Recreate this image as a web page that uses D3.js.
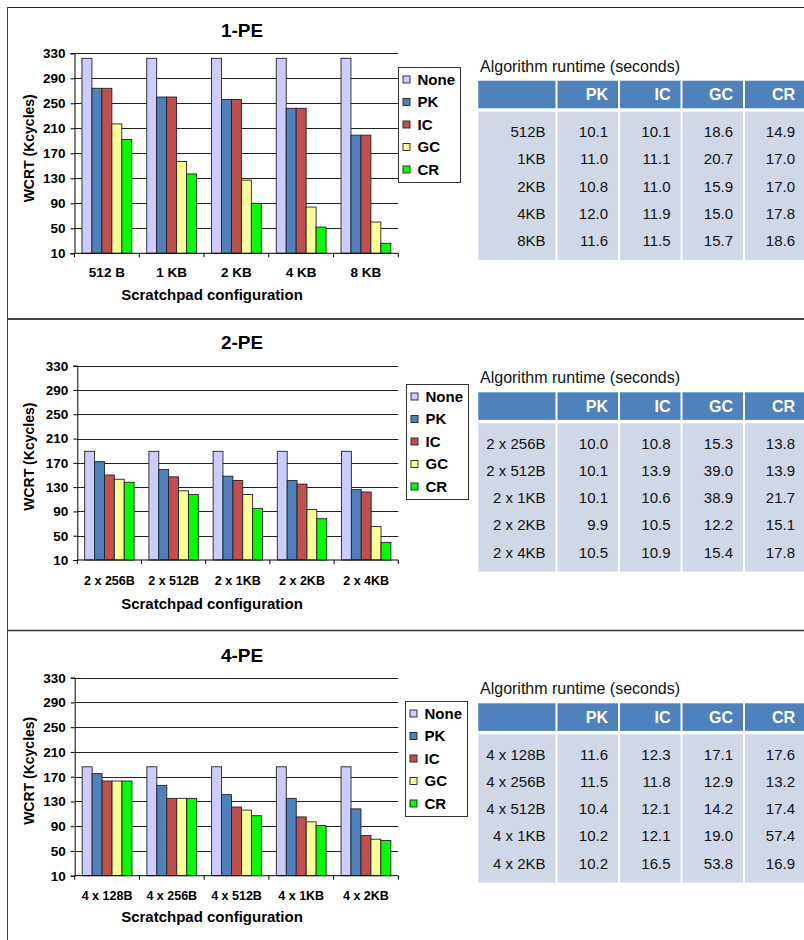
<!DOCTYPE html>
<html>
<head>
<meta charset="utf-8">
<script src="https://cdn.jsdelivr.net/npm/d3@7"></script>
<style>
  html, body { margin: 0; padding: 0; background: #fff; }
  svg { display: block; font-family: "Liberation Sans", Arial, sans-serif; }
</style>
</head>
<body>
<svg id="chart" width="804" height="940"></svg>
<script>
// Series shown in every panel
const seriesNames = ["None", "PK", "IC", "GC", "CR"];
const seriesColors = ["#ccccff", "#4f81bd", "#c0504d", "#ffff99", "#00ff00"];
const yTickValues = [10, 50, 90, 130, 170, 210, 250, 290, 330];

// 1-PE worst-case response time (Kcycles)
const pe1Configs = ["512 B", "1 KB", "2 KB", "4 KB", "8 KB"];
const pe1None = [322, 322, 322, 322, 322];
const pe1PK = [274, 260, 256, 242, 199];
const pe1IC = [274, 260, 256, 242, 199];
const pe1GC = [217, 157, 127, 84, 60];
const pe1CR = [192, 137, 90, 52, 26];

// 2-PE worst-case response time (Kcycles)
const pe2Configs = ["2 x 256B", "2 x 512B", "2 x 1KB", "2 x 2KB", "2 x 4KB"];
const pe2None = [189, 189, 189, 189, 189];
const pe2PK = [172, 159, 148, 141, 126];
const pe2IC = [150, 147, 141, 135, 122];
const pe2GC = [143, 124, 118, 93, 65];
const pe2CR = [138, 118, 95, 78, 39];

// 4-PE worst-case response time (Kcycles)
const pe4Configs = ["4 x 128B", "4 x 256B", "4 x 512B", "4 x 1KB", "4 x 2KB"];
const pe4None = [186, 186, 186, 186, 186];
const pe4PK = [175, 156, 141, 135, 118];
const pe4IC = [163, 135, 121, 105, 75];
const pe4GC = [163, 135, 116, 97, 69];
const pe4CR = [163, 135, 107, 91, 67];

// Algorithm runtime tables (seconds)
const tableHeaders = ["", "PK", "IC", "GC", "CR"];
const rt1Rows = ["512B", "1KB", "2KB", "4KB", "8KB"];
const rt1PK = [10.1, 11.0, 10.8, 12.0, 11.6];
const rt1IC = [10.1, 11.1, 11.0, 11.9, 11.5];
const rt1GC = [18.6, 20.7, 15.9, 15.0, 15.7];
const rt1CR = [14.9, 17.0, 17.0, 17.8, 18.6];

const rt2Rows = ["2 x 256B", "2 x 512B", "2 x 1KB", "2 x 2KB", "2 x 4KB"];
const rt2PK = [10.0, 10.1, 10.1, 9.9, 10.5];
const rt2IC = [10.8, 13.9, 10.6, 10.5, 10.9];
const rt2GC = [15.3, 39.0, 38.9, 12.2, 15.4];
const rt2CR = [13.8, 13.9, 21.7, 15.1, 17.8];

const rt4Rows = ["4 x 128B", "4 x 256B", "4 x 512B", "4 x 1KB", "4 x 2KB"];
const rt4PK = [11.6, 11.5, 10.4, 10.2, 10.2];
const rt4IC = [12.3, 11.8, 12.1, 12.1, 16.5];
const rt4GC = [17.1, 12.9, 14.2, 19.0, 53.8];
const rt4CR = [17.6, 13.2, 17.4, 57.4, 16.9];

const svg = d3.select("#chart");
svg.append("rect").attr("width", 804).attr("height", 940).attr("fill", "#fff");

// Page frame and panel separators
svg.append("line").attr("x1", 7.5).attr("x2", 804).attr("y1", 7.5).attr("y2", 7.5)
  .attr("stroke", "#222").attr("stroke-width", 1);
svg.append("line").attr("x1", 7.5).attr("x2", 7.5).attr("y1", 7).attr("y2", 940)
  .attr("stroke", "#444").attr("stroke-width", 1);
svg.append("line").attr("x1", 7).attr("x2", 804).attr("y1", 319).attr("y2", 319)
  .attr("stroke", "#444").attr("stroke-width", 2);
svg.append("line").attr("x1", 7).attr("x2", 804).attr("y1", 630.5).attr("y2", 630.5)
  .attr("stroke", "#333").attr("stroke-width", 1.5);

const panels = [
  {
    title: "1-PE", configs: pe1Configs, values: [pe1None, pe1PK, pe1IC, pe1GC, pe1CR],
    left: 74.5, right: 398.3, top: 53.3, bottom: 253.3,
    titleY: 36.7, yTitleY: 148.3, xLabelY: 277.3, xLabelSize: 13.5, xTitleY: 299.5,
    legendX: 398, legendY: 67,
    rows: rt1Rows, cols: [rt1PK, rt1IC, rt1GC, rt1CR], tableTop: 80.7
  },
  {
    title: "2-PE", configs: pe2Configs, values: [pe2None, pe2PK, pe2IC, pe2GC, pe2CR],
    left: 77.3, right: 398.3, top: 365.7, bottom: 560,
    titleY: 349.3, yTitleY: 456.7, xLabelY: 584.5, xLabelSize: 12.5, xTitleY: 608.5,
    legendX: 406, legendY: 384,
    rows: rt2Rows, cols: [rt2PK, rt2IC, rt2GC, rt2CR], tableTop: 392.3
  },
  {
    title: "4-PE", configs: pe4Configs, values: [pe4None, pe4PK, pe4IC, pe4GC, pe4CR],
    left: 74.7, right: 398.3, top: 677.7, bottom: 875.7,
    titleY: 661.7, yTitleY: 770.8, xLabelY: 899.5, xLabelSize: 12.5, xTitleY: 921.5,
    legendX: 405, legendY: 701,
    rows: rt4Rows, cols: [rt4PK, rt4IC, rt4GC, rt4CR], tableTop: 703.3
  }
];

const color = d3.scaleOrdinal().domain(seriesNames).range(seriesColors);

panels.forEach(p => {
  const g = svg.append("g");

  const x0 = d3.scaleBand().domain(p.configs).range([p.left, p.right]).padding(0);
  const bw = x0.bandwidth();
  const gapEdge = bw * 0.75 / 6.5;
  const x1 = d3.scaleBand().domain(seriesNames).range([gapEdge, bw - gapEdge]).padding(0);
  const y = d3.scaleLinear().domain([10, 330]).range([p.bottom, p.top]);

  // Chart title
  g.append("text").attr("x", 242).attr("y", p.titleY).attr("text-anchor", "middle")
    .attr("font-size", 19).attr("font-weight", "bold").attr("fill", "#000").text(p.title);

  // Horizontal gridlines
  g.append("g").selectAll("line").data(yTickValues.filter(v => v > 10)).join("line")
    .attr("x1", p.left).attr("x2", p.right)
    .attr("y1", d => Math.round(y(d)) + 0.5).attr("y2", d => Math.round(y(d)) + 0.5)
    .attr("stroke", "#222").attr("stroke-width", 1);

  // Bars
  const groups = g.append("g").selectAll("g").data(p.configs).join("g")
    .attr("transform", d => `translate(${x0(d)},0)`);
  groups.selectAll("rect")
    .data((c, i) => seriesNames.map((s, k) => ({ s, v: p.values[k][i] })))
    .join("rect")
    .attr("x", d => x1(d.s))
    .attr("width", x1.bandwidth())
    .attr("y", d => y(d.v))
    .attr("height", d => y(10) - y(d.v))
    .attr("fill", d => color(d.s))
    .attr("stroke", "#222").attr("stroke-width", 0.9);

  // Y axis
  const yAxis = d3.axisLeft(y).tickValues(yTickValues).tickSize(4).tickPadding(5);
  const ya = g.append("g").attr("transform", `translate(${p.left},0)`).call(yAxis);
  ya.select(".domain").attr("stroke", "#000");
  ya.selectAll(".tick line").attr("stroke", "#000");
  ya.selectAll("text").attr("font-size", 13.5).attr("font-weight", "bold")
    .attr("font-family", "Liberation Sans, Arial, sans-serif").attr("fill", "#000");

  // X axis: boundary ticks between configurations
  const xb = g.append("g");
  xb.append("line").attr("x1", p.left).attr("x2", p.right)
    .attr("y1", p.bottom).attr("y2", p.bottom).attr("stroke", "#000");
  const edges = p.configs.map(c => x0(c)).concat([p.right]);
  xb.selectAll("line.tk").data(edges).join("line").attr("class", "tk")
    .attr("x1", d => d).attr("x2", d => d)
    .attr("y1", p.bottom).attr("y2", p.bottom + 4).attr("stroke", "#000");
  xb.selectAll("text").data(p.configs).join("text")
    .attr("x", d => x0(d) + bw / 2).attr("y", p.xLabelY).attr("text-anchor", "middle")
    .attr("font-size", p.xLabelSize).attr("font-weight", "bold").attr("fill", "#000")
    .text(d => d);

  // Axis titles
  g.append("text").attr("x", 212).attr("y", p.xTitleY).attr("text-anchor", "middle")
    .attr("font-size", 15).attr("font-weight", "bold").attr("fill", "#000")
    .text("Scratchpad configuration");
  g.append("text")
    .attr("transform", `translate(34,${p.yTitleY}) rotate(-90)`)
    .attr("text-anchor", "middle").attr("font-size", 14).attr("font-weight", "bold")
    .attr("fill", "#000").text("WCRT (Kcycles)");

  // Legend
  const lg = g.append("g").attr("transform", `translate(${p.legendX},${p.legendY})`);
  lg.append("rect").attr("x", 0.5).attr("y", 0.5).attr("width", 62).attr("height", 115)
    .attr("fill", "#fff").attr("stroke", "#333").attr("stroke-width", 1);
  const ly = d3.scalePoint().domain(seriesNames).range([12.5, 102.5]);
  const items = lg.selectAll("g").data(seriesNames).join("g")
    .attr("transform", d => `translate(0,${ly(d)})`);
  items.append("rect").attr("x", 5).attr("y", -3.5).attr("width", 7).attr("height", 7)
    .attr("fill", d => color(d)).attr("stroke", "#222").attr("stroke-width", 0.9);
  items.append("text").attr("x", 19.5).attr("y", 0).attr("dy", "0.36em")
    .attr("font-size", 15).attr("font-weight", "bold").attr("fill", "#000").text(d => d);

  // Runtime table
  const tg = g.append("g");
  const colEdges = [478.3, 556.5, 619, 681.5, 744, 806];
  tg.append("text").attr("x", 480).attr("y", p.tableTop - 9)
    .attr("font-size", 16).attr("fill", "#111").text("Algorithm runtime (seconds)");
  const headH = 27.6, bodyTop = p.tableTop + 31, bodyH = 148.3;
  tableHeaders.forEach((h, i) => {
    const xl = colEdges[i] + (i > 0 ? 1 : 0);
    const xr = colEdges[i + 1] - 1;
    tg.append("rect").attr("x", xl).attr("y", p.tableTop).attr("width", xr - xl).attr("height", headH)
      .attr("fill", "#4f81bd");
    tg.append("rect").attr("x", xl).attr("y", bodyTop).attr("width", xr - xl).attr("height", bodyH)
      .attr("fill", "#d0d8e8");
    if (h) {
      tg.append("text").attr("x", colEdges[i + 1] - 11).attr("y", p.tableTop + headH / 2)
        .attr("dy", "0.36em").attr("text-anchor", "end").attr("font-size", 16)
        .attr("font-weight", "bold").attr("fill", "#fff").text(h);
    }
  });
  const ry = d3.scalePoint().domain(p.rows).range([bodyTop + 20, bodyTop + 20 + 4 * 27.2]);
  tg.selectAll("text.rl").data(p.rows).join("text").attr("class", "rl")
    .attr("x", colEdges[1] - 11).attr("y", d => ry(d)).attr("dy", "0.36em")
    .attr("text-anchor", "end").attr("font-size", 15).attr("fill", "#111").text(d => d);
  p.cols.forEach((col, ci) => {
    tg.selectAll(`text.c${ci}`).data(col).join("text").attr("class", `c${ci}`)
      .attr("x", colEdges[ci + 2] - 11).attr("y", (d, i) => ry(p.rows[i])).attr("dy", "0.36em")
      .attr("text-anchor", "end").attr("font-size", 15).attr("fill", "#111")
      .text(d => d.toFixed(1));
  });
});
</script>
</body>
</html>
